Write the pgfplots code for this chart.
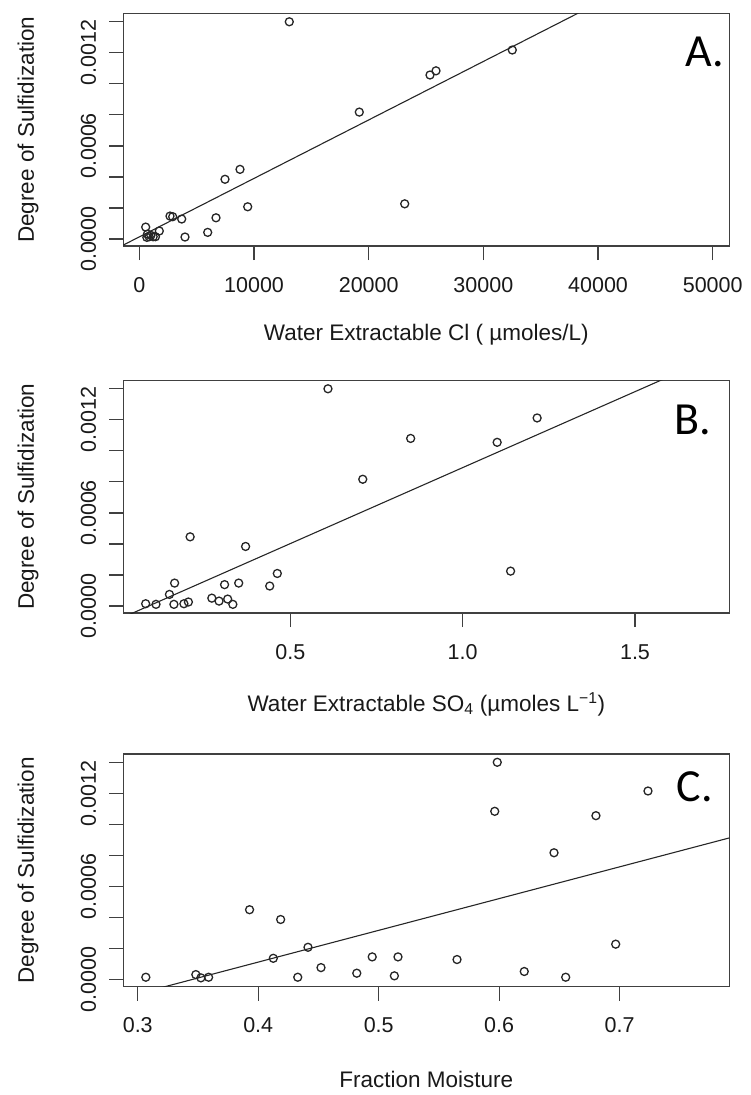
\documentclass[border=0pt]{standalone}
\usepackage{fontspec}
\setmainfont{Liberation Sans}
\newfontfamily\calib{Carlito}
\usepackage{pgfplots}
\pgfplotsset{compat=1.18}
\pgfplotsset{
  rstyle/.style={
    scale only axis, width=606pt, height=232.5pt,
    anchor=north west,
    scaled x ticks=false, scaled y ticks=false,
    axis line style={black!75, line width=1.3pt},
    tick style={black!75, line width=1.2pt},
    tick align=outside, tick pos=left, major tick length=14pt,
    ymin=-0.0000448, ymax=0.0014533,
    ytick={0,0.0002,0.0004,0.0006,0.0008,0.001,0.0012,0.0014},
    yticklabels={0.0000,,,0.0006,,,0.0012,},
    ticklabel style={font=\fontsize{21.5}{24}\selectfont, text=black!90},
    yticklabel style={rotate=90, anchor=south, inner sep=0pt},
    xticklabel style={anchor=north, inner sep=0pt},
    yticklabel shift=13pt,
    xticklabel shift=17pt,
    label style={font=\fontsize{22.5}{26}\selectfont, text=black!90},
    ylabel={Degree of Sulfidization},
    ylabel style={at={(axis description cs:-0.157,0.5)}, anchor=center},
  },
  pts/.style={only marks, mark=o, mark size=4pt, mark options={line width=1.3pt, black!85}},
  fit/.style={no marks, line width=1.1pt, black!85},
}
\tikzset{plab/.style={font=\calib\fontsize{46}{46}\selectfont, anchor=base east, inner sep=0pt}}
\begin{document}
\begin{tikzpicture}
\path[use as bounding box] (0,0) rectangle (751pt,-1095pt);
% ---------------- A ----------------
\begin{axis}[rstyle, at={(123.3pt,-13.5pt)},
  xmin=-1404, xmax=51448,
  xtick={0,10000,20000,30000,40000,50000},
  xticklabels={0,10000,20000,30000,40000,50000},
  xlabel={Water Extractable Cl ( µmoles/L)},
  xlabel style={at={(axis description cs:0.5,-0.383)}, anchor=center}]
\addplot[pts] table {
x y
13073 0.0014
32522 0.001218
25868 0.001084
25344 0.001057
19178 0.000818
8774 0.000449
7466 0.000385
23138 0.000227
9445 0.000208
2669 0.000148
2904 0.000144
6681 0.000137
3689 0.000129
549 0.000077
1736 0.000052
5957 0.000043
3977 0.000013
700 0.000032
1000 0.000024
850 0.000015
1200 0.000015
650 0.000011
1400 0.000015
};
\addplot[fit] coordinates {(-1500,-0.0000423) (40000,0.001521)};
\node[plab] at (rel axis cs:0.991,0.770) {A.};
\end{axis}
% ---------------- B ----------------
\begin{axis}[rstyle, at={(123.3pt,-380.5pt)},
  xmin=0.0151, xmax=1.7737,
  xtick={0.5,1,1.5},
  xticklabels={0.5,1.0,1.5},
  xlabel={Water Extractable SO\textsubscript{4} (µmoles L\textsuperscript{−1})},
  xlabel style={at={(axis description cs:0.5,-0.393)}, anchor=center}]
\addplot[pts] table {
x y
0.609 0.0014
0.849 0.00108
0.710 0.000817
1.100 0.001055
1.216 0.001212
1.139 0.000225
0.209 0.000446
0.370 0.000384
0.462 0.00021
0.440 0.000129
0.350 0.000148
0.309 0.000138
0.272 0.000051
0.293 0.000032
0.318 0.000045
0.333 0.000011
0.164 0.000148
0.149 0.000075
0.162 0.000011
0.080 0.000015
0.110 0.000011
0.191 0.000015
0.204 0.000026
};
\addplot[fit] coordinates {(0,-0.0000866) (1.8,0.001675)};
\node[plab] at (rel axis cs:0.971,0.766) {B.};
\end{axis}
% ---------------- C ----------------
\begin{axis}[rstyle, at={(123.3pt,-754pt)},
  xmin=0.288, xmax=0.791,
  xtick={0.3,0.4,0.5,0.6,0.7},
  xticklabels={0.3,0.4,0.5,0.6,0.7},
  xlabel={Fraction Moisture},
  xlabel style={at={(axis description cs:0.5,-0.40)}, anchor=center}]
\addplot[pts] table {
x y
0.5984 0.0014
0.5963 0.001084
0.7235 0.001215
0.6803 0.001056
0.6455 0.000817
0.3928 0.00045
0.4186 0.000387
0.6967 0.000228
0.4413 0.000208
0.4946 0.000146
0.5160 0.000146
0.4125 0.000137
0.5650 0.000129
0.4521 0.000077
0.6208 0.000052
0.4818 0.000041
0.3482 0.000032
0.5130 0.000024
0.3067 0.000015
0.3524 0.000011
0.3588 0.000015
0.4328 0.000015
0.6552 0.000015
};
\addplot[fit] coordinates {(0.28,-0.000133) (0.8,0.000931)};
\node[plab] at (rel axis cs:0.973,0.795) {C.};
\end{axis}
\end{tikzpicture}
\end{document}
